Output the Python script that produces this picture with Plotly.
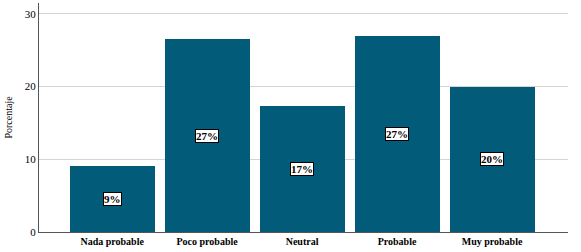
import plotly.graph_objects as go

categories = ["Nada probable", "Poco probable", "Neutral", "Probable", "Muy probable"]
values = [9.1, 26.5, 17.4, 26.9, 20.0]
labels = ["9%", "27%", "17%", "27%", "20%"]
y_ticks = [0, 10, 20, 30]

BAR = "#025b78"
FONT = "Liberation Serif"

fig = go.Figure()
fig.add_trace(go.Bar(x=categories, y=values, marker=dict(color=BAR, line=dict(width=0)),
                     width=0.895, hoverinfo="skip"))

for c, v, t in zip(categories, values, labels):
    fig.add_annotation(x=c, y=v / 2, text="<b>%s</b>" % t, showarrow=False,
                       font=dict(family=FONT, size=11, color="black"),
                       bgcolor="white", bordercolor="black", borderwidth=1, borderpad=0)

fig.update_layout(
    width=581, height=252,
    margin=dict(l=39, r=13, t=3, b=20, autoexpand=False),
    paper_bgcolor="white", plot_bgcolor="white",
    showlegend=False,
    bargap=0,
    xaxis=dict(range=[-0.77, 4.8], showgrid=False, showline=True, linecolor="#555555", linewidth=1,
               ticks="", tickfont=dict(family=FONT, size=10, color="black"),
               tickprefix="<b>", ticksuffix="</b>"),
    yaxis=dict(range=[0, 31.5], tickvals=y_ticks, showgrid=True, gridcolor="#d4d4d4", gridwidth=1,
               showline=True, linecolor="#555555", linewidth=1, ticks="", zeroline=False,
               tickfont=dict(family=FONT, size=11, color="black"),
               tickprefix="<b>", ticksuffix="</b>",
               title=dict(text="Porcentaje", font=dict(family=FONT, size=10, color="black"), standoff=10)),
)

fig.write_html("out.html", config={"displayModeBar": False},
               post_script="document.body.style.margin='0';")
